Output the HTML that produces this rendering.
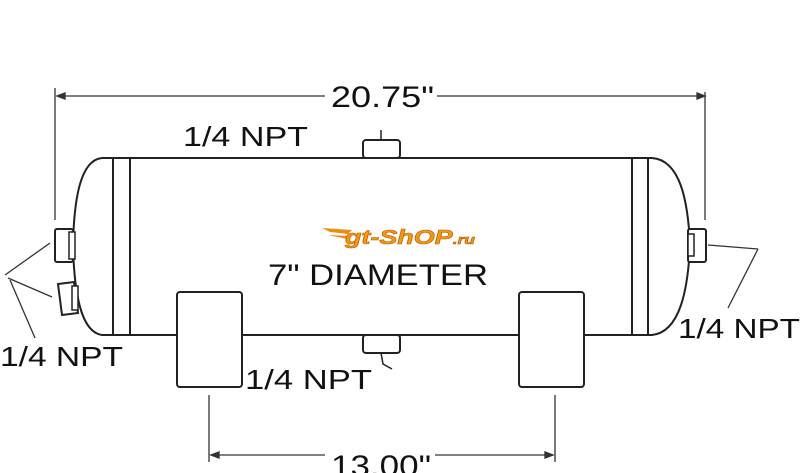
<!DOCTYPE html>
<html><head><meta charset="utf-8"><style>
html,body{margin:0;padding:0;background:#fff;}
svg{display:block;}
text{font-family:"Liberation Sans",Arial,sans-serif;fill:#111;}
</style></head><body>
<svg width="800" height="473" viewBox="0 0 800 473" xmlns="http://www.w3.org/2000/svg">
<g stroke="#222" fill="none" stroke-width="2">
<path d="M102 158 L652 158 C680 160 688 200 690 245 C688 290 680 332 652 335 L102 335 C80 332 74 290 73 245 C74 200 80 160 102 158 Z" fill="#fff"/>
<line x1="113" y1="158" x2="113" y2="335"/>
<line x1="130" y1="158" x2="130" y2="335"/>
<line x1="632" y1="158" x2="632" y2="335"/>
<line x1="648" y1="158" x2="648" y2="335"/>
<rect x="363" y="140" width="37" height="18" rx="3" fill="#fff"/>
<line x1="381" y1="130" x2="381" y2="140" stroke-width="1.5"/>
<rect x="363" y="335" width="37" height="18" rx="3" fill="#fff"/>
<path d="M381 353 L383 364 L392 369" stroke-width="1.5"/>
<rect x="55" y="229" width="18" height="33" rx="2" fill="#fff"/>
<rect x="69" y="232" width="6" height="27" stroke-width="1.5" fill="#fff"/>
<path d="M58 284 L74 282 L78 313 L62 315 Z" fill="#fff"/>
<rect x="72" y="286" width="6" height="24" stroke-width="1.5" fill="#fff"/>
<rect x="688" y="229" width="18" height="33" rx="2" fill="#fff"/>
<rect x="688" y="234" width="6" height="22" stroke-width="1.5" fill="#fff"/>
<rect x="177" y="292" width="65" height="95" rx="3" fill="#fff"/>
<rect x="519" y="292" width="65" height="95" rx="3" fill="#fff"/>
</g>
<g stroke="#333" stroke-width="1.3" fill="none">
<line x1="57" y1="96" x2="325" y2="96"/>
<line x1="437" y1="96" x2="705" y2="96"/>
<line x1="55" y1="88" x2="55" y2="220"/>
<line x1="705" y1="92" x2="705" y2="220"/>
<path d="M57 96 l8 -3 l0 6 z M705 96 l-8 -3 l0 6 z" fill="#333"/>
<line x1="209" y1="395" x2="209" y2="462"/>
<line x1="555" y1="395" x2="555" y2="462"/>
<line x1="211" y1="455" x2="325" y2="455"/>
<line x1="435" y1="455" x2="553" y2="455"/>
<path d="M211 455 l8 -3 l0 6 z M553 455 l-8 -3 l0 6 z" fill="#333"/>
<line x1="5" y1="275" x2="50" y2="243"/>
<line x1="8" y1="278" x2="52" y2="297"/>
<line x1="10" y1="280" x2="35" y2="338"/>
<line x1="708" y1="245" x2="758" y2="249"/>
<line x1="758" y1="249" x2="728" y2="308"/>
</g>
<text x="331" y="107" font-size="30" textLength="103" lengthAdjust="spacingAndGlyphs">20.75"</text>
<text x="331" y="476" font-size="30" textLength="100" lengthAdjust="spacingAndGlyphs">13.00"</text>
<text x="183" y="146" font-size="28" textLength="125" lengthAdjust="spacingAndGlyphs">1/4 NPT</text>
<text x="0" y="366" font-size="28" textLength="123" lengthAdjust="spacingAndGlyphs">1/4 NPT</text>
<text x="245" y="389" font-size="28" textLength="127" lengthAdjust="spacingAndGlyphs">1/4 NPT</text>
<text x="678" y="338" font-size="28" textLength="122" lengthAdjust="spacingAndGlyphs">1/4 NPT</text>
<text x="268" y="285" font-size="30" textLength="220" lengthAdjust="spacingAndGlyphs">7" DIAMETER</text>
<g>
<path d="M322 228 L352 230 L348 234 L330 232 Z M328 235 L350 236 L347 239 Z" fill="#f08a10"/>
<text x="345" y="244" font-size="20" font-weight="bold" font-style="italic" textLength="130" lengthAdjust="spacingAndGlyphs" style="fill:#f29a12;stroke:#c05a00;stroke-width:0.6">gt-ShOP<tspan font-size="13">.ru</tspan></text>
</g>
</svg>
</body></html>
